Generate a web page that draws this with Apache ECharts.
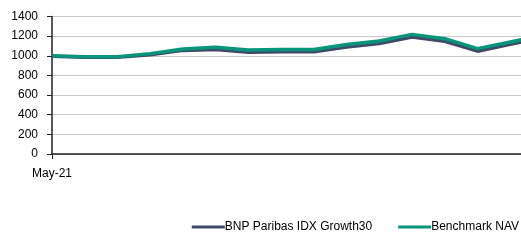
<!DOCTYPE html>
<html>
<head>
<meta charset="utf-8">
<script src="https://cdn.jsdelivr.net/npm/echarts@6/dist/echarts.min.js"></script>
<style>
  html, body { margin: 0; padding: 0; background: #fff; overflow: hidden; }
  #wrap { width: 521px; height: 244px; overflow: hidden; }
  #chart { width: 543px; height: 244px; }
</style>
</head>
<body>
<div id="wrap"><div id="chart"></div></div>
<script>
// monthly points from May-21; the last one runs past the right edge
const months = ['May-21', 'Jun-21', 'Jul-21', 'Aug-21', 'Sep-21', 'Oct-21', 'Nov-21', 'Dec-21',
  'Jan-22', 'Feb-22', 'Mar-22', 'Apr-22', 'May-22', 'Jun-22', 'Jul-22', 'Aug-22'];
const bnpValues = [995, 985, 985, 1010, 1055, 1065, 1035, 1040, 1040, 1090, 1125, 1190, 1147, 1047, 1117, 1185];
const benchmarkValues = [1000, 990, 990, 1022, 1070, 1088, 1060, 1063, 1063, 1115, 1150, 1218, 1174, 1073, 1141, 1209];
const yTicks = { min: 0, max: 1400, interval: 200 };

const textStyle = { fontFamily: 'Liberation Sans', fontSize: 12, color: '#000' };

const chart = echarts.init(document.getElementById('chart'));
chart.setOption({
  animation: false,
  grid: { left: 52, top: 16.5, right: 0, bottom: 90 },
  legend: {
    right: 19,
    bottom: 6,
    itemWidth: 33,
    itemHeight: 3,
    itemGap: 26,
    icon: 'rect',
    textStyle: { ...textStyle, padding: [0, 0, 0, -5] },
    data: ['BNP Paribas IDX Growth30', 'Benchmark NAV'],
  },
  xAxis: {
    type: 'category',
    boundaryGap: false,
    data: months,
    axisLine: { lineStyle: { color: '#222', width: 1.5 } },
    axisTick: { show: true, length: 5, interval: (i) => i === 0, lineStyle: { color: '#222' } },
    axisLabel: { ...textStyle, margin: 14, interval: (i) => i === 0 },
    splitLine: { show: false },
  },
  yAxis: {
    type: 'value',
    ...yTicks,
    axisLine: { show: true, lineStyle: { color: '#222', width: 1.5 } },
    axisTick: { show: true, length: 5, lineStyle: { color: '#222' } },
    axisLabel: { ...textStyle, margin: 14, formatter: (v) => String(v) },
    splitLine: { lineStyle: { color: '#c8c8c8', width: 1 } },
  },
  series: [
    {
      name: 'BNP Paribas IDX Growth30',
      type: 'line',
      data: bnpValues,
      showSymbol: false,
      color: '#3f4b66',
      lineStyle: { width: 3.5 },
    },
    {
      name: 'Benchmark NAV',
      type: 'line',
      data: benchmarkValues,
      showSymbol: false,
      color: '#08967a',
      lineStyle: { width: 3.5 },
    },
  ],
});
</script>
</body>
</html>
